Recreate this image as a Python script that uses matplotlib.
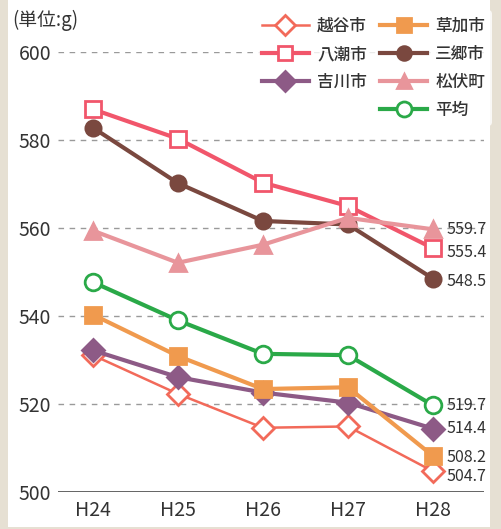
import matplotlib
matplotlib.use("Agg")
from matplotlib import pyplot as plt
from matplotlib import patches
from matplotlib.lines import Line2D

plt.rcParams['font.family'] = ['Liberation Sans Narrow', 'Noto Sans CJK JP', 'DejaVu Sans']

years = ['H24', 'H25', 'H26', 'H27', 'H28']
koshigaya = [531.1, 522.3, 514.6, 514.9, 504.7]
soka = [540.3, 530.9, 523.4, 523.8, 508.2]
yashio = [587.0, 580.3, 570.3, 565.0, 555.4]
misato = [582.8, 570.2, 561.6, 560.8, 548.5]
yoshikawa = [532.2, 526.1, 522.6, 520.3, 514.4]
matsubushi = [559.4, 552.1, 556.2, 562.3, 559.7]
average = [547.7, 539.0, 531.4, 531.1, 519.7]

# name, values, color, marker, face, line width, marker size, label offset (pt)
series = [
	('越谷市', koshigaya, '#f26a5a', 'D', 'white', 1.8, 11, -4),
	('八潮市', yashio, '#f1566b', 's', 'white', 3.0, 11, -3),
	('吉川市', yoshikawa, '#8d5a86', 'D', '#8d5a86', 3.0, 11, 0),
	('草加市', soka, '#f09a4e', 's', '#f09a4e', 3.0, 11, -1),
	('三郷市', misato, '#7a483f', 'o', '#7a483f', 3.0, 11, -2),
	('松伏町', matsubushi, '#e8959b', '^', '#e8959b', 3.0, 11, 0),
	('平均', average, '#2aa948', 'o', 'white', 3.0, 12, 0),
]

fig = plt.figure(figsize=(5.02, 5.29), dpi=100)
fig.patch.set_facecolor('#e6e0d3')
fig.patches.append(patches.Rectangle((8 / 502, 2 / 529), 482 / 502, 527 / 529, transform=fig.transFigure,
									 facecolor='white', edgecolor='none', zorder=-5))

ax = fig.add_axes([58 / 502, 1 - 492 / 529, 426 / 502, 440 / 529])
ax.set_facecolor('none')
x = list(range(len(years)))

handles = []
for name, vals, color, mk, face, lw, ms, dy in series:
	ax.plot(x, vals, color=color, lw=lw, marker=mk, markersize=ms, markerfacecolor=face,
			markeredgecolor=color, markeredgewidth=2, clip_on=False, zorder=3)
	h = Line2D([0], [0], color=color, lw=lw, marker=mk, markersize=ms * 0.9,
			   markerfacecolor=face, markeredgecolor=color, markeredgewidth=2)
	handles.append((h, name))
	ax.annotate(f'{vals[-1]:.1f}', (x[-1], vals[-1]), xytext=(10, dy), textcoords='offset points',
				ha='left', va='center', fontsize=11.5, color='#333333')

ax.set_xlim(-0.41, 4.6)
ax.set_ylim(500, 600)
ax.set_yticks([500, 520, 540, 560, 580, 600])
ax.set_xticks(x)
ax.set_xticklabels(years)
for v in [520, 540, 560, 580, 600]:
	ax.axhline(v, color='#9a9a9a', lw=1, ls=(0, (4, 4)), zorder=1)
ax.axhline(500, color='#555555', lw=2, zorder=2)
for s in ax.spines.values():
	s.set_visible(False)
ax.tick_params(axis='both', length=0, labelsize=14, colors='#333333')
ax.tick_params(axis='y', pad=5)
ax.tick_params(axis='x', pad=6)

blank = Line2D([0], [0], color='none')
order = handles[:3] + [(blank, '')] + handles[3:]
leg = fig.legend([h for h, _ in order], [n for _, n in order], ncol=2, loc='upper left',
				 bbox_to_anchor=(247 / 502, 1 - 2 / 529), frameon=True,
				 handlelength=2.8, columnspacing=0.8, labelspacing=0.6, handletextpad=0.5,
				 prop={'family': ['Noto Sans CJK JP'], 'size': 12, 'weight': 'medium'})
leg.get_frame().set_facecolor('white')
leg.get_frame().set_edgecolor('none')
leg.set_zorder(5)
for t in leg.get_texts():
	t.set_color('#333333')

fig.text(12 / 502, 1 - 20 / 529, '(単位:g)', fontsize=13.5, color='#333333', va='center', ha='left',
		 family=['Noto Sans CJK JP'])

fig.savefig('out.png', dpi=100, facecolor=fig.get_facecolor())
